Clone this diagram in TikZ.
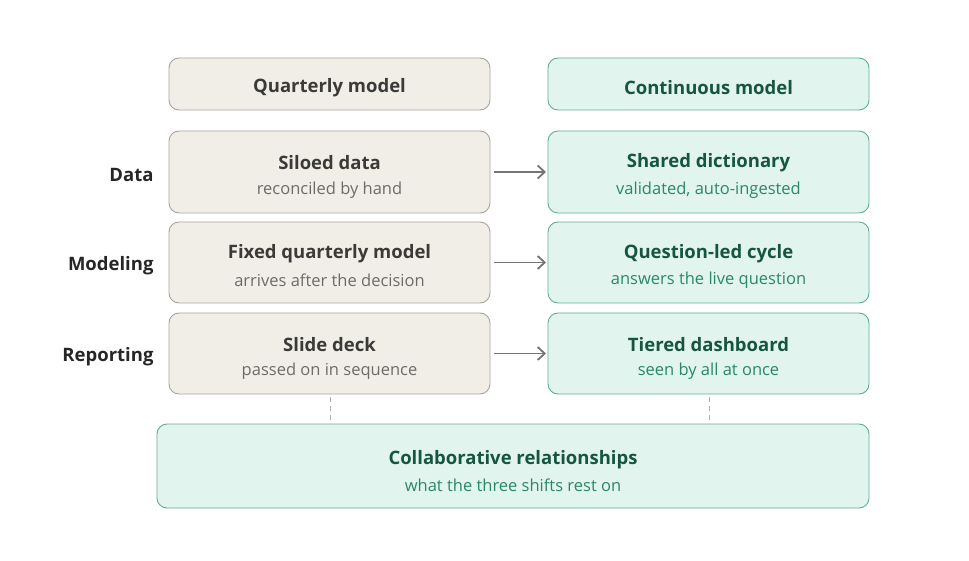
\documentclass[tikz,border=0pt]{standalone}
\usepackage{fontspec}
\setmainfont{Open Sans}
\usetikzlibrary{arrows.meta}
\definecolor{bfill}{HTML}{F1EEE8}
\definecolor{bdraw}{HTML}{A9A59E}
\definecolor{gfill}{HTML}{E1F4EE}
\definecolor{gdraw}{HTML}{62AE90}
\definecolor{gtitle}{HTML}{16563F}
\definecolor{gsub}{HTML}{2A8866}
\definecolor{ktitle}{HTML}{3A3A38}
\definecolor{ksub}{HTML}{6E6C68}
\definecolor{arr}{HTML}{757573}
\begin{document}
\begin{tikzpicture}[x=1pt,y=-1pt,
  box/.style={rounded corners=10pt, line width=0.9pt, inner sep=0pt, align=center},
  oldbox/.style={box, draw=bdraw, fill=bfill},
  newbox/.style={box, draw=gdraw, fill=gfill},
  ot/.style={font=\fontsize{18.5}{22}\selectfont\bfseries, text=ktitle},
  os/.style={font=\fontsize{16.5}{19}\selectfont, text=ksub},
  nt/.style={font=\fontsize{18.5}{22}\selectfont\bfseries, text=gtitle},
  ns/.style={font=\fontsize{16.5}{19}\selectfont, text=gsub},
  rowlab/.style={font=\fontsize{18.5}{22}\selectfont\bfseries, text=black!85, anchor=east},
  conn/.style={draw=arr, line width=1.8pt, -{Straight Barb[length=7pt,width=13pt,line width=1.8pt]}},
  dashln/.style={draw=black!30, line width=1pt, dash pattern=on 5pt off 4pt}
]
\useasboundingbox (0,0) rectangle (969,561);
% headers
\path[oldbox] (169,58) rectangle (490,110);
\node[ot] (hq) at (329.5,88) {Quarterly model};
\path[newbox] (548,58) rectangle (869,110);
\node[nt] (hc) at (708.5,88) {Continuous model};
% rows
\foreach \i/\ya/\yb/\ta/\sa/\tb/\sb/\lab in {
  1/131/213/Siloed data/reconciled by hand/Shared dictionary/{validated, auto-ingested}/Data,
  2/222/303/Fixed quarterly model/arrives after the decision/Question-led cycle/answers the live question/Modeling,
  3/313/394/Slide deck/passed on in sequence/Tiered dashboard/seen by all at once/Reporting}{
  \path[oldbox] (169,\ya) rectangle (490,\yb);
  \path[newbox] (548,\ya) rectangle (869,\yb);
  \coordinate (L\i) at (490,{(\ya+\yb)/2});
  \coordinate (R\i) at (548,{(\ya+\yb)/2});
  \node[ot] (lt\i) at (329.5,{(\ya+\yb)/2-9}) {\ta};
  \node[os] (ls\i) at (329.5,{(\ya+\yb)/2+18}) {\sa};
  \node[nt] (rt\i) at (708.5,{(\ya+\yb)/2-9}) {\tb};
  \node[ns] (rs\i) at (708.5,{(\ya+\yb)/2+18}) {\sb};
  \node[rowlab] (lab\i) at (157,{(\ya+\yb)/2+3}) {\lab};
}
\foreach \i in {1,2,3}{
  \draw[conn] ([xshift=4pt]L\i) -- ([xshift=-2pt]R\i);
}
% bottom
\path[newbox] (157,424) rectangle (869,508);
\node[nt] (bt) at (513,460) {Collaborative relationships};
\node[ns] (bs) at (513,485) {what the three shifts rest on};
\coordinate (d1a) at (330,397);
\coordinate (d1b) at (330,421);
\coordinate (d2a) at (709,397);
\coordinate (d2b) at (709,421);
\draw[dashln] (d1a) -- (d1b);
\draw[dashln] (d2a) -- (d2b);
\end{tikzpicture}
\end{document}
